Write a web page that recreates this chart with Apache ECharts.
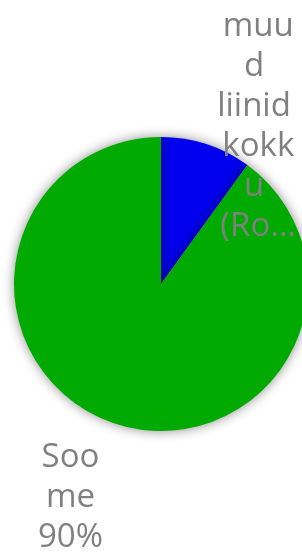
<!DOCTYPE html>
<html>
<head>
<meta charset="utf-8">
<script src="https://cdn.jsdelivr.net/npm/echarts@6/dist/echarts.min.js"></script>
<style>
html, body { margin: 0; padding: 0; background: #fff; }
#main { width: 302px; height: 552px; }
</style>
</head>
<body>
<div id="main"></div>
<script>
// andmed (esimene nimi on pildil juba kärbitud)
const names = ['muud liinid kokku (Ro...', 'Soome'];
const values = [10, 90];
const colors = ['#0000ee', '#00aa00'];
// sildijoone pikkused (joon ise peidetud)
const lineLen = [[19, 41], [78, 16]];

let myChart = echarts.init(document.getElementById('main'));

let chartOption = {
	animation: false,
	series: [
		{
			type: 'pie',
			center: [161, 284],
			radius: 147,
			startAngle: 90,
			clockwise: true,
			avoidLabelOverlap: false,
			data: names.map(function (n, i) {
				return {
					name: n,
					value: values[i],
					itemStyle: { color: colors[i] },
					labelLine: { length: lineLen[i][0], length2: lineLen[i][1] }
				};
			}),
			itemStyle: {
				shadowBlur: 12,
				shadowColor: 'rgba(0,0,0,0.45)'
			},
			label: {
				show: true,
				position: 'outside',
				formatter: '{b}\n{d}%',
				color: '#808080',
				fontFamily: 'Open Sans',
				fontSize: 33,
				lineHeight: 40,
				width: 84,
				height: 240,
				overflow: 'break',
				lineOverflow: 'truncate'
			},
			labelLine: { show: false },
			labelLayout: function () {
				return { align: 'center', verticalAlign: 'middle' };
			}
		}
	]
};

chartOption && myChart.setOption(chartOption);
</script>
</body>
</html>
